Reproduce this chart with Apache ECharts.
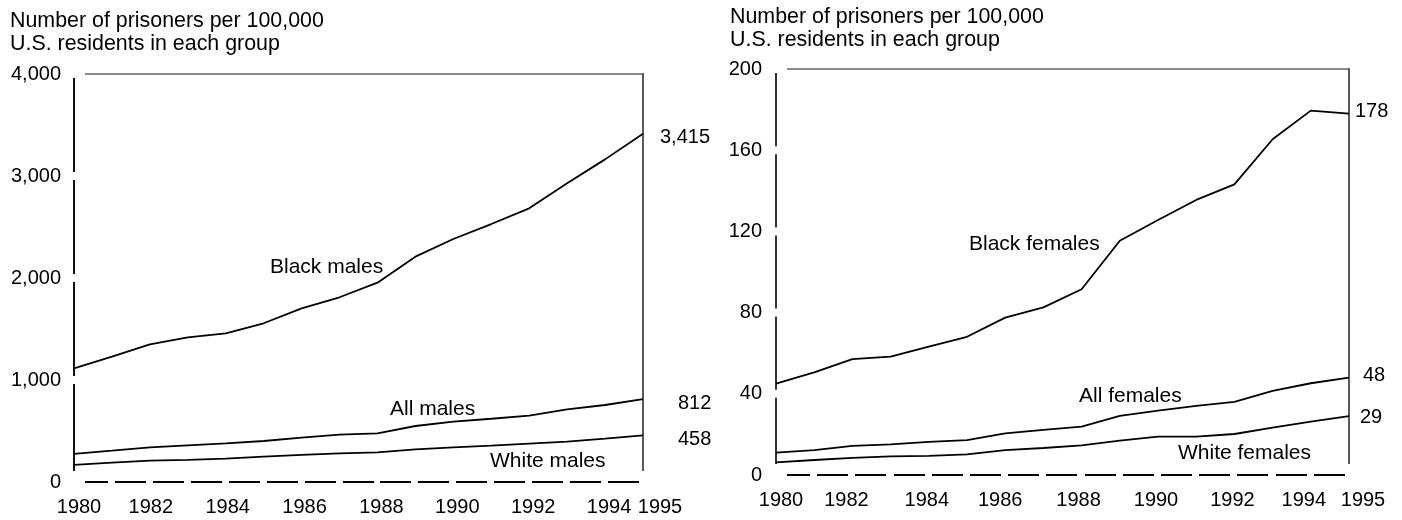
<!DOCTYPE html>
<html>
<head>
<meta charset="utf-8">
<script src="https://cdn.jsdelivr.net/npm/echarts@6/dist/echarts.min.js"></script>
<style>
  html, body { margin: 0; padding: 0; background: #fff; }
  #chart { width: 1402px; height: 520px; }
</style>
</head>
<body>
<div id="chart"></div>
<script>
const years = ['1980', '1981', '1982', '1983', '1984', '1985', '1986', '1987',
    '1988', '1989', '1990', '1991', '1992', '1993', '1994', '1995'];

// males, per 100,000 residents
const blackMales = [1115, 1229, 1350, 1418, 1458, 1556, 1703, 1811, 1954, 2209, 2382, 2529, 2683, 2928, 3163, 3415];
const allMales = [275, 307, 340, 360, 379, 402, 435, 464, 477, 549, 591, 620, 650, 713, 755, 812];
const whiteMales = [167, 190, 209, 216, 229, 249, 265, 281, 291, 320, 340, 356, 376, 395, 425, 458];

// females
const blackFemales = [45, 50.6, 57.1, 58.3, 63.2, 68.1, 77.5, 82.6, 91.5, 115.4, 125.6, 135.5, 143.2, 165.4, 179.5, 178];
const allFemales = [11, 12.3, 14.3, 15.1, 16.3, 17.2, 20.5, 22.2, 23.8, 29.1, 31.7, 34, 36, 41.4, 45.2, 48];
const whiteFemales = [6.2, 7.4, 8.4, 9.2, 9.4, 10.2, 12.3, 13.3, 14.6, 16.9, 18.9, 18.9, 20.2, 23.3, 26.3, 29];

const endLabelsMales = ['3,415', '812', '458'];
const endLabelsFemales = ['178', '48', '29'];
const seriesNamesMales = ['Black males', 'All males', 'White males'];
const seriesNamesFemales = ['Black females', 'All females', 'White females'];
const titleLines = ['Number of prisoners per 100,000', 'U.S. residents in each group'];

const FONT = '"Liberation Sans", Arial, sans-serif';

// per-label horizontal nudges of the year labels (px)
const shiftLeft = { 0: 5, 2: 1, 4: 2, 6: 3, 8: 4, 10: 4, 12: 4, 14: 4, 15: 17 };
const shiftRight = { 0: 5, 2: -6, 4: -2, 6: -5, 8: -3, 10: -2, 12: -2, 14: -7, 15: 14 };

function yearRich(shift) {
    const rich = {};
    years.forEach((y, i) => {
        const s = shift[i] || 0;
        rich['s' + i] = {
            fontSize: 20, fontFamily: FONT, color: '#000',
            padding: s >= 0 ? [0, 0, 0, 2 * s] : [0, -2 * s, 0, 0],
        };
    });
    return rich;
}

function fmt(v) {
    return v.toLocaleString('en-US');
}

function bottomAxis(gi, shift) {
    return {
        type: 'category', gridIndex: gi, data: years, boundaryGap: false, position: 'bottom', z: 0,
        axisLine: { show: false },
        axisTick: { show: false },
        axisLabel: {
            margin: 15,
            interval: (i) => i % 2 === 0 || i === years.length - 1,
            formatter: (v, i) => '{s' + i + '|' + v + '}',
            rich: yearRich(shift),
        },
    };
}

function topAxis(gi) {
    return {
        type: 'category', gridIndex: gi, data: years, boundaryGap: false, position: 'top', z: 0,
        axisLine: { onZero: false, lineStyle: { color: '#666', width: 1.5 } },
        axisTick: { show: false }, axisLabel: { show: false },
    };
}

function leftAxis(gi, max, interval, padRight, color) {
    return {
        type: 'value', gridIndex: gi, min: 0, max: max, interval: interval, position: 'left', z: 1,
        splitLine: { show: false },
        axisTick: { show: false },
        axisLine: { show: true, lineStyle: { color: color, width: 2 } },
        axisLabel: {
            margin: -11,
            padding: [0, padRight, 0, 0],
            backgroundColor: '#fff',
            formatter: (v) => v === 0 ? '{z|0}' : '{n|' + fmt(v) + '}',
            rich: {
                n: { fontSize: 20, fontFamily: FONT, color: '#000', lineHeight: 8 },
                z: { fontSize: 20, fontFamily: FONT, color: '#000', lineHeight: 22 },
            },
        },
    };
}

function rightAxis(gi, max, interval) {
    return {
        type: 'value', gridIndex: gi, min: 0, max: max, interval: interval, position: 'right', z: 1,
        splitLine: { show: false },
        axisTick: { show: false },
        axisLine: { show: true, lineStyle: { color: '#222', width: 1.5 } },
        axisLabel: {
            margin: -4,
            formatter: (v) => v === 0 ? '{z| }' : '',
            rich: { z: { width: 8, height: 22, backgroundColor: '#fff', fontSize: 10 } },
        },
    };
}

function lineSeries(name, data, xi, yi, label, distance, dy) {
    return {
        name: name, type: 'line', xAxisIndex: xi, yAxisIndex: yi, data: data,
        symbol: 'none', silent: true, z: 2,
        lineStyle: { color: '#000', width: 1.8 },
        endLabel: {
            show: true, formatter: label, distance: distance, offset: [0, dy],
            fontSize: 20, fontFamily: FONT, color: '#000',
        },
    };
}

// dashed zero line: one dash per year step, drawn as thin filled bars
function baseline(xi, yi) {
    return {
        type: 'custom', xAxisIndex: xi, yAxisIndex: yi, silent: true, z: 0,
        data: years.slice(0, -1).map((y, i) => [i, 0]),
        renderItem: (params, api) => {
            const i = api.value(0);
            const a = api.coord([i, 0]);
            const b = api.coord([i + 1, 0]);
            return {
                type: 'rect',
                shape: { x: Math.round(a[0]) + 3, y: Math.round(a[1]) - 1, width: Math.round(b[0] - a[0]) - 7, height: 2 },
                style: { fill: '#000' },
            };
        },
    };
}

function textEl(str, x, y) {
    return {
        type: 'text', left: x, top: y, silent: true,
        style: { text: str, fontSize: 21, fontFamily: FONT, fill: '#000' },
    };
}

function titleEl(x, y) {
    return {
        type: 'text', left: x, top: y, silent: true,
        style: { text: titleLines.join('\n'), fontSize: 21.4, fontFamily: FONT, fill: '#000', lineHeight: 23 },
    };
}

const chart = echarts.init(document.getElementById('chart'));

chart.setOption({
    animation: false,
    backgroundColor: '#fff',
    grid: [
        { left: 74, right: 759, top: 74, bottom: 38 },
        { left: 776, right: 53, top: 69, bottom: 45 },
    ],
    xAxis: [
        bottomAxis(0, shiftLeft),
        topAxis(0),
        bottomAxis(1, shiftRight),
        topAxis(1),
    ],
    yAxis: [
        leftAxis(0, 4000, 1000, 24, '#111'),
        rightAxis(0, 4000, 1000),
        leftAxis(1, 200, 40, 25, '#333'),
        rightAxis(1, 200, 40),
    ],
    series: [
        baseline(0, 0),
        baseline(2, 2),
        lineSeries(seriesNamesMales[0], blackMales, 0, 0, endLabelsMales[0], 17, 4),
        lineSeries(seriesNamesMales[1], allMales, 0, 0, endLabelsMales[1], 35, 4),
        lineSeries(seriesNamesMales[2], whiteMales, 0, 0, endLabelsMales[2], 35, 4),
        lineSeries(seriesNamesFemales[0], blackFemales, 2, 2, endLabelsFemales[0], 6, -2),
        lineSeries(seriesNamesFemales[1], allFemales, 2, 2, endLabelsFemales[1], 14, -2),
        lineSeries(seriesNamesFemales[2], whiteFemales, 2, 2, endLabelsFemales[2], 11, 1),
    ],
    graphic: [
        titleEl(10, 10),
        titleEl(730, 6),
        textEl(seriesNamesMales[0], 270, 257),
        textEl(seriesNamesMales[1], 390, 399),
        textEl(seriesNamesMales[2], 490, 451),
        textEl(seriesNamesFemales[0], 969, 234),
        textEl(seriesNamesFemales[1], 1079, 386),
        textEl(seriesNamesFemales[2], 1178, 443),
    ],
});
</script>
</body>
</html>
